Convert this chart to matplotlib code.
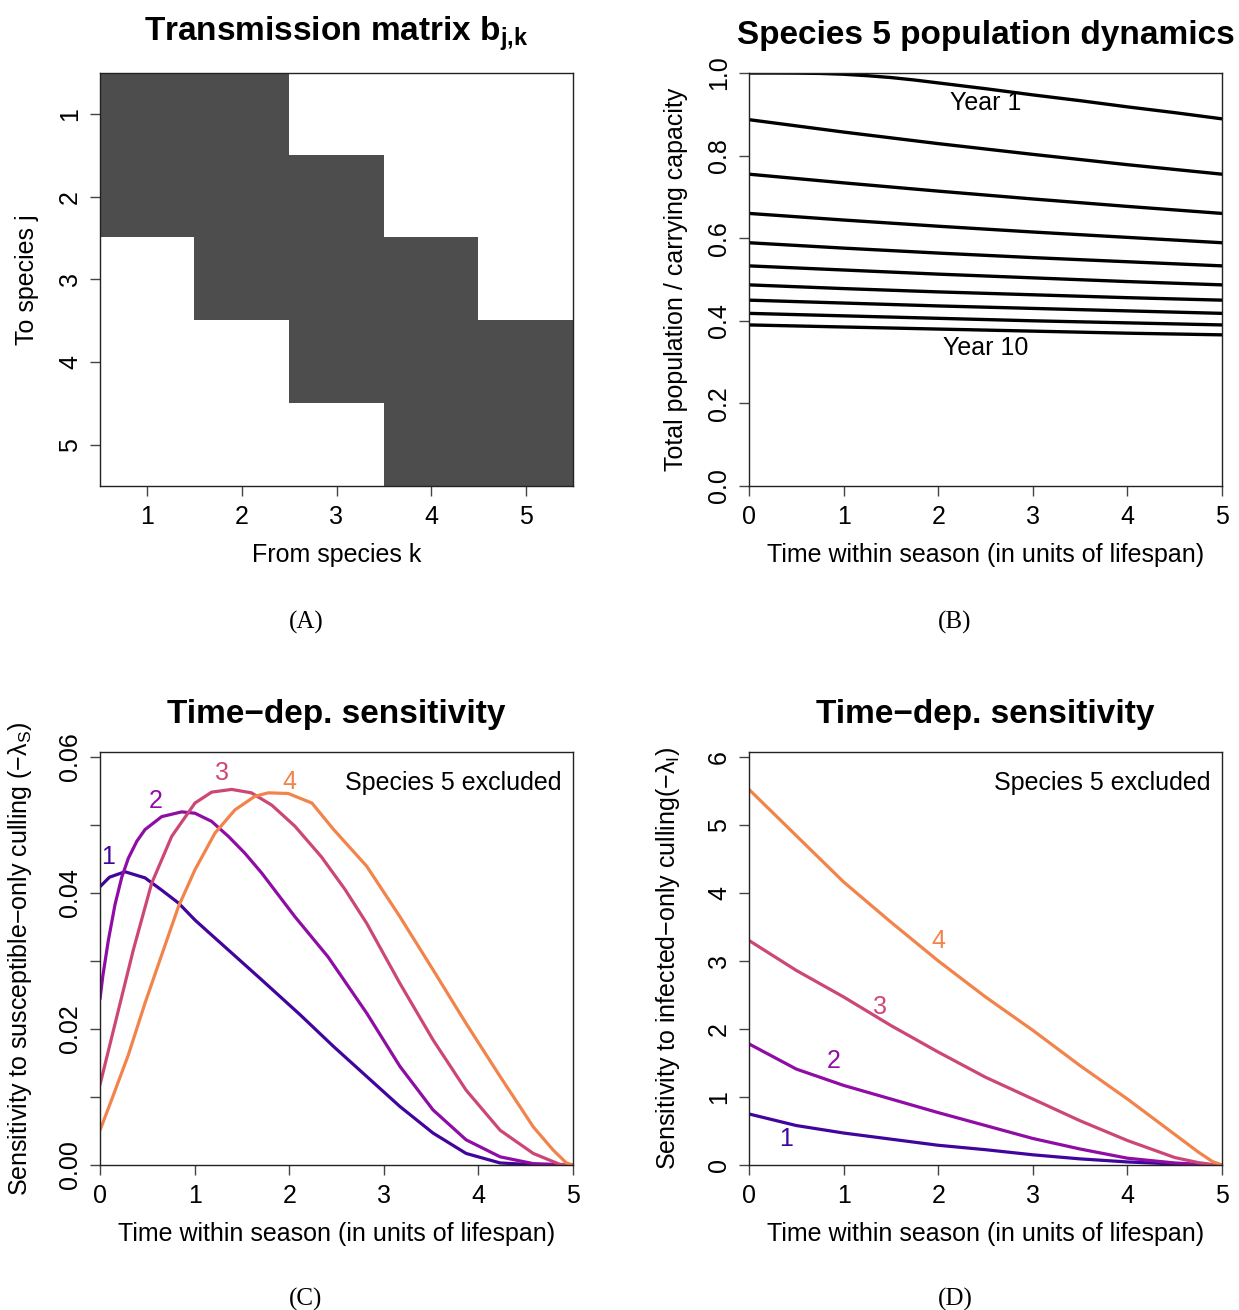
import numpy as np
import matplotlib
matplotlib.use("Agg")
import matplotlib.pyplot as plt
from matplotlib.colors import ListedColormap

plt.rcParams['font.family'] = ['Liberation Sans', 'DejaVu Sans']
plt.rcParams['mathtext.fontset'] = 'custom'
plt.rcParams['mathtext.rm'] = 'Liberation Sans'
plt.rcParams['mathtext.bf'] = 'Liberation Sans:bold'
plt.rcParams['mathtext.it'] = 'Liberation Sans:italic'
plt.rcParams['lines.solid_joinstyle'] = 'round'
plt.rcParams['lines.solid_capstyle'] = 'round'

# ---- data ----
# (A) transmission matrix, rows = to species j, cols = from species k
species = [1, 2, 3, 4, 5]
trans_matrix = [[1, 1, 0, 0, 0],
                [1, 1, 1, 0, 0],
                [0, 1, 1, 1, 0],
                [0, 0, 1, 1, 1],
                [0, 0, 0, 1, 1]]

# (B) total population / carrying capacity per year
t_year1 = [0, 0.25, 0.5, 0.75, 1, 1.25, 1.5, 1.75, 2, 2.5, 3, 3.5, 4, 4.5, 5]
pop_year1 = [1.0, 1.0, 0.9997, 0.999, 0.997, 0.9935, 0.989, 0.983, 0.976, 0.962,
             0.947, 0.933, 0.918, 0.904, 0.889]
t_years = [0, 1, 2, 3, 4, 5]
pop_years = [
    [0.887, 0.857, 0.829, 0.803, 0.778, 0.755],
    [0.755, 0.734, 0.714, 0.695, 0.677, 0.660],
    [0.660, 0.644, 0.629, 0.615, 0.602, 0.589],
    [0.589, 0.576, 0.564, 0.553, 0.543, 0.533],
    [0.533, 0.523, 0.513, 0.504, 0.495, 0.487],
    [0.487, 0.478, 0.470, 0.463, 0.456, 0.450],
    [0.450, 0.443, 0.436, 0.430, 0.424, 0.418],
    [0.418, 0.412, 0.406, 0.400, 0.395, 0.390],
    [0.390, 0.385, 0.380, 0.375, 0.370, 0.366],
]

# (C) sensitivity to susceptible-only culling
t_s1 = [0, 0.1, 0.264, 0.476, 0.652, 0.83, 1.004, 1.18, 1.357, 1.71, 2.114, 2.47,
        2.82, 3.17, 3.52, 3.87, 4.23, 4.6, 5.0]
sens_s1 = [0.0409, 0.0423, 0.0431, 0.0422, 0.0404, 0.0385, 0.0360, 0.0338, 0.0316,
           0.0272, 0.0221, 0.0174, 0.0130, 0.0086, 0.0047, 0.0017, 0.0003, 0.00003, 0.0]
t_s2 = [0, 0.03, 0.088, 0.159, 0.23, 0.30, 0.39, 0.476, 0.652, 0.863, 1.004, 1.18,
        1.357, 1.533, 1.71, 2.06, 2.41, 2.82, 3.17, 3.52, 3.87, 4.23, 4.58, 5.0]
sens_s2 = [0.0244, 0.0278, 0.0330, 0.0383, 0.0423, 0.0451, 0.0476, 0.0493, 0.0512,
           0.0519, 0.0517, 0.0505, 0.0483, 0.0458, 0.0429, 0.0365, 0.0306, 0.0223,
           0.0145, 0.0081, 0.0037, 0.0012, 0.0002, 0.0]
t_s3 = [0, 0.11, 0.222, 0.352, 0.546, 0.758, 1.004, 1.18, 1.392, 1.6, 1.815, 2.06,
        2.34, 2.59, 2.82, 3.17, 3.52, 3.87, 4.23, 4.58, 4.86, 5.0]
sens_s3 = [0.0118, 0.0180, 0.0243, 0.0316, 0.0414, 0.0483, 0.0532, 0.0548, 0.0552,
           0.0547, 0.0529, 0.0498, 0.0453, 0.0405, 0.0355, 0.0267, 0.0184, 0.0110,
           0.0051, 0.0017, 0.0001, 0.0]
t_s4 = [0, 0.123, 0.30, 0.476, 0.67, 0.83, 1.004, 1.216, 1.427, 1.638, 1.78, 1.99,
        2.24, 2.47, 2.82, 3.17, 3.52, 3.87, 4.23, 4.58, 4.79, 4.93, 5.0]
sens_s4 = [0.0051, 0.0096, 0.0162, 0.0238, 0.0316, 0.0380, 0.0434, 0.0488, 0.0522,
           0.0542, 0.0547, 0.0546, 0.0532, 0.0493, 0.0439, 0.0365, 0.0287, 0.0208,
           0.0130, 0.0056, 0.0022, 0.0003, 0.0]

# (D) sensitivity to infected-only culling
t_inf = [0, 0.5, 1, 1.5, 2, 2.5, 3, 3.5, 4, 4.5, 4.75, 4.9, 5]
sens_i1 = [0.75, 0.58, 0.47, 0.38, 0.29, 0.225, 0.15, 0.09, 0.045, 0.015, 0.005, 0.001, 0.0]
sens_i2 = [1.78, 1.41, 1.17, 0.97, 0.77, 0.58, 0.39, 0.235, 0.10, 0.03, 0.01, 0.002, 0.0]
sens_i3 = [3.30, 2.86, 2.47, 2.05, 1.66, 1.29, 0.97, 0.65, 0.36, 0.11, 0.035, 0.007, 0.0]
sens_i4 = [5.52, 4.84, 4.16, 3.57, 3.00, 2.47, 1.98, 1.46, 0.97, 0.45, 0.19, 0.05, 0.0]

curve_labels = ['1', '2', '3', '4']
colors = plt.cm.plasma([0.1, 0.3, 0.5, 0.7])

fig = plt.figure(figsize=(12.39, 13.1), dpi=100)
W, H = 1239, 1310


def make_ax(left, top, width=473, height=413):
    return fig.add_axes([left / W, 1 - (top + height) / H, width / W, height / H])


def style(ax, title, xlabel, ylabel, title_off=37, ylab_off=73):
    for s in ax.spines.values():
        s.set_linewidth(1.0)
        s.set_color('#222222')
    ax.tick_params(axis='both', which='both', length=7, width=1, labelsize=18,
                   color='#444444', pad=7)
    ax.tick_params(axis='y', which='both', labelrotation=90, pad=6)
    for lab in ax.get_yticklabels():
        lab.set_va('center')
    h = 413.0
    ax.text(0.5, 1 + title_off / h, title, transform=ax.transAxes, ha='center',
            va='center', fontsize=24, fontweight='bold')
    ax.text(0.5, -69 / h, xlabel, transform=ax.transAxes, ha='center', va='center',
            fontsize=18)
    ax.text(-ylab_off / 473.0, 0.5, ylabel, transform=ax.transAxes, ha='center',
            va='center', rotation=90, fontsize=18)


xlab_time = 'Time within season (in units of lifespan)'

# (A)
axA = make_ax(100, 73)
axA.imshow(trans_matrix, cmap=ListedColormap(['white', '#4d4d4d']), origin='upper',
           extent=[0.5, 5.5, 5.5, 0.5], aspect='auto', interpolation='nearest')
axA.set_xlim(0.5, 5.5)
axA.set_ylim(5.5, 0.5)
axA.set_xticks(species)
axA.set_yticks(species)
style(axA, r'Transmission matrix $\mathbf{b}_{\mathbf{j{,}k}}$', 'From species k',
      'To species j', title_off=39)

# (B)
axB = make_ax(749, 73)
axB.plot(t_year1, pop_year1, color='black', lw=2.4)
for vals in pop_years:
    axB.plot(t_years, vals, color='black', lw=2.4)
axB.set_xlim(0, 5)
axB.set_ylim(0, 1)
axB.set_xticks([0, 1, 2, 3, 4, 5])
axB.set_yticks([0, 0.2, 0.4, 0.6, 0.8, 1.0])
axB.set_yticklabels(['0.0', '0.2', '0.4', '0.6', '0.8', '1.0'])
axB.text(2.5, 0.927, 'Year 1', ha='center', va='center', fontsize=18)
axB.text(2.5, 0.334, 'Year 10', ha='center', va='center', fontsize=18)
style(axB, 'Species 5 population dynamics', xlab_time,
      'Total population / carrying capacity')

# (C)
axC = make_ax(100, 752)
for tt, vals, c in zip([t_s1, t_s2, t_s3, t_s4], [sens_s1, sens_s2, sens_s3, sens_s4], colors):
    axC.plot(tt, vals, color=c, lw=2.3)
for (x, y), lab, c in zip([(0.09, 0.0453), (0.59, 0.0535), (1.29, 0.0576), (2.0, 0.0563)],
                          curve_labels, colors):
    axC.text(x, y, lab, color=c, ha='center', va='center', fontsize=18)
axC.text(4.88, 0.0562, 'Species 5 excluded', ha='right', va='center', fontsize=18)
axC.set_xlim(0, 5)
axC.set_ylim(0, 0.0607)
axC.set_xticks([0, 1, 2, 3, 4, 5])
axC.set_yticks([0, 0.02, 0.04, 0.06])
axC.set_yticks([0.01, 0.03, 0.05], minor=True)
axC.set_yticklabels(['0.00', '0.02', '0.04', '0.06'])
style(axC, 'Time\u2212dep. sensitivity', xlab_time,
      'Sensitivity to susceptible\u2212only culling (\u2212\u03bb$_{\\mathrm{S}}$)',
      ylab_off=80)

# (D)
axD = make_ax(749, 752)
for vals, c in zip([sens_i1, sens_i2, sens_i3, sens_i4], colors):
    axD.plot(t_inf, vals, color=c, lw=2.3)
for (x, y), lab, c in zip([(0.39, 0.38), (0.89, 1.53), (1.38, 2.32), (2.0, 3.29)],
                          curve_labels, colors):
    axD.text(x, y, lab, color=c, ha='center', va='center', fontsize=18)
axD.text(4.88, 5.62, 'Species 5 excluded', ha='right', va='center', fontsize=18)
axD.set_xlim(0, 5)
axD.set_ylim(0, 6.07)
axD.set_xticks([0, 1, 2, 3, 4, 5])
axD.set_yticks([0, 1, 2, 3, 4, 5, 6])
style(axD, 'Time\u2212dep. sensitivity', xlab_time,
      'Sensitivity to infected\u2212only culling(\u2212\u03bb$_{\\mathrm{I}}$)',
      ylab_off=81)

# panel letters
for x, y, lab in [(306, 622, '(A)'), (955, 622, '(B)'), (306, 1299, '(C)'), (955, 1299, '(D)')]:
    fig.text(x / W, 1 - y / H, lab, ha='center', va='center', fontsize=18,
             family='Liberation Serif')

fig.savefig('out.png', dpi=100)
